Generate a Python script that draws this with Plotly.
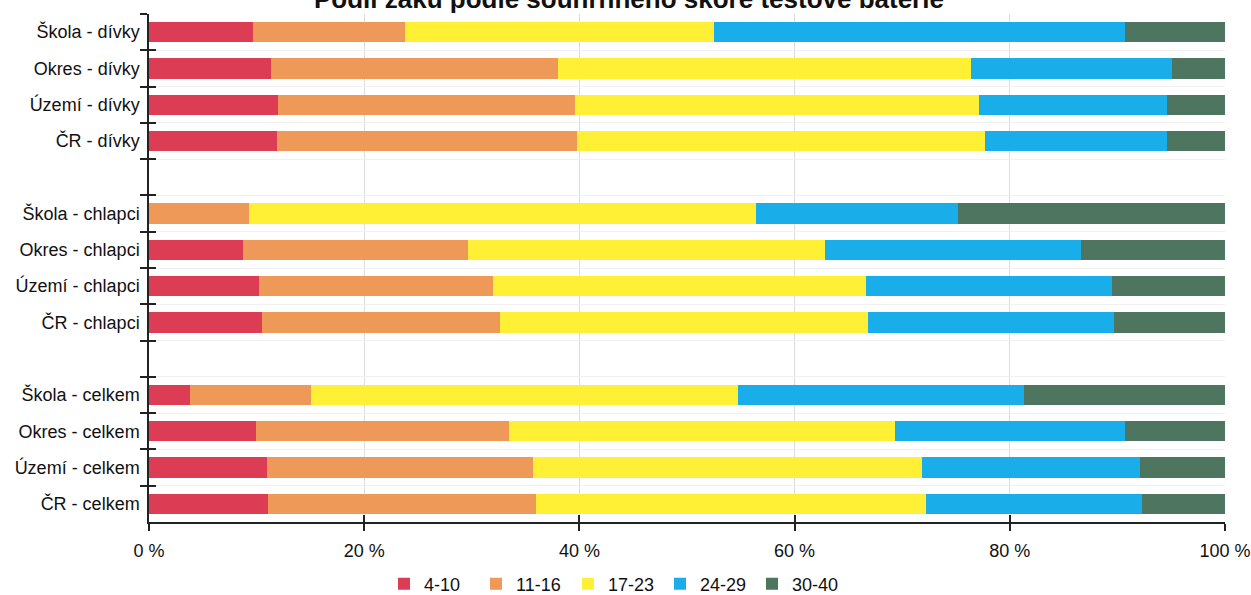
import plotly.graph_objects as go

categories = ["Škola - dívky", "Okres - dívky", "Území - dívky", "ČR - dívky", " ",
              "Škola - chlapci", "Okres - chlapci", "Území - chlapci", "ČR - chlapci", "  ",
              "Škola - celkem", "Okres - celkem", "Území - celkem", "ČR - celkem"]

# segment shares (percent)
s_4_10 = [9.7, 11.3, 12.0, 11.9, None, 0.0, 8.7, 10.2, 10.5, None, 3.8, 9.9, 11.0, 11.1]
s_11_16 = [14.1, 26.7, 27.6, 27.9, None, 9.3, 20.9, 21.8, 22.1, None, 11.3, 23.6, 24.7, 24.9]
s_17_23 = [28.7, 38.4, 37.5, 37.9, None, 47.1, 33.2, 34.6, 34.2, None, 39.6, 35.8, 36.1, 36.2]
s_24_29 = [38.2, 18.7, 17.5, 16.9, None, 18.8, 23.8, 22.9, 22.9, None, 26.6, 21.4, 20.3, 20.1]
s_30_40 = [9.3, 4.9, 5.4, 5.4, None, 24.8, 13.4, 10.5, 10.3, None, 18.7, 9.3, 7.9, 7.7]

series_names = ["4-10", "11-16", "17-23", "24-29", "30-40"]
series_values = [s_4_10, s_11_16, s_17_23, s_24_29, s_30_40]
colors = ["#DD3C55", "#EE9957", "#FFF035", "#19AEEA", "#4D7560"]

x_ticks = [0, 20, 40, 60, 80, 100]
x_tick_labels = ["0 %", "20 %", "40 %", "60 %", "80 %", "100 %"]

title_text = "Podíl žáků podle souhrnného skóre testové baterie"

FONT = "Liberation Sans, Arial, sans-serif"

fig = go.Figure()
for name, vals, col in zip(series_names, series_values, colors):
    fig.add_trace(go.Bar(
        y=categories, x=vals, name=name, orientation="h",
        marker=dict(color=col, line=dict(width=0)),
        hoverinfo="x+y+name",
    ))

n = len(categories)
boundaries = [i - 0.5 for i in range(n + 1)]

# transparent helper trace so the overlay axes (inner half of the crossing ticks) get drawn
fig.add_trace(go.Scatter(x=[0, 100], y=[-0.5, n - 0.5], xaxis="x2", yaxis="y2",
                         mode="markers", marker=dict(opacity=0, size=1),
                         showlegend=False, hoverinfo="skip"))

fig.update_layout(
    barmode="stack",
    bargap=0.44,
    width=1251, height=595,
    margin=dict(l=149, r=26, t=14, b=73),
    paper_bgcolor="white", plot_bgcolor="white",
    font=dict(family=FONT, size=18, color="#111111"),
    xaxis=dict(range=[0, 100], tickvals=x_ticks, ticktext=x_tick_labels,
               showgrid=True, gridcolor="#DCDCDC", gridwidth=1,
               showline=True, linecolor="#222222", linewidth=1.5,
               ticks="outside", ticklen=7, tickcolor="#222222", tickwidth=1.5,
               zeroline=False, tickfont=dict(size=18), automargin=False,
               ticklabelstandoff=5),
    yaxis=dict(categoryorder="array", categoryarray=categories,
               autorange="reversed", tickson="boundaries",
               showgrid=True, gridcolor="#F0F0F0", gridwidth=1,
               showline=True, linecolor="#222222", linewidth=1.5,
               ticks="outside", ticklen=7, tickcolor="#222222", tickwidth=1.5,
               tickfont=dict(size=18), automargin=False, ticklabelstandoff=4),
    xaxis2=dict(overlaying="x", anchor="y", range=[0, 100], tickvals=x_ticks,
                showticklabels=False, showgrid=False, zeroline=False,
                ticks="inside", ticklen=7, tickcolor="#222222", tickwidth=1.5,
                side="bottom", showline=False, automargin=False),
    yaxis2=dict(overlaying="y", anchor="x", range=[n - 0.5, -0.5], tickvals=boundaries,
                showticklabels=False, showgrid=False, zeroline=False,
                ticks="inside", ticklen=7, tickcolor="#222222", tickwidth=1.5,
                side="left", showline=False, automargin=False),
    legend=dict(orientation="h", x=0.2184, xanchor="left",
                y=0.0185, yref="container", yanchor="middle",
                font=dict(size=18), itemwidth=30, traceorder="normal",
                entrywidth=47, entrywidthmode="pixels",
                bgcolor="rgba(0,0,0,0)"),
    showlegend=True,
    annotations=[dict(text="<b>" + title_text + "</b>", xref="paper", yref="paper",
                      x=0.446, y=1.0296, xanchor="center", yanchor="middle",
                      showarrow=False, font=dict(size=26, family=FONT, color="#111111"))],
)

# remove the browser's default 8 px body margin so the figure fills the window exactly
fig.write_html(
    "out.html",
    config={"displayModeBar": False},
    post_script="document.body.style.margin='0';document.body.style.overflow='hidden';",
)
